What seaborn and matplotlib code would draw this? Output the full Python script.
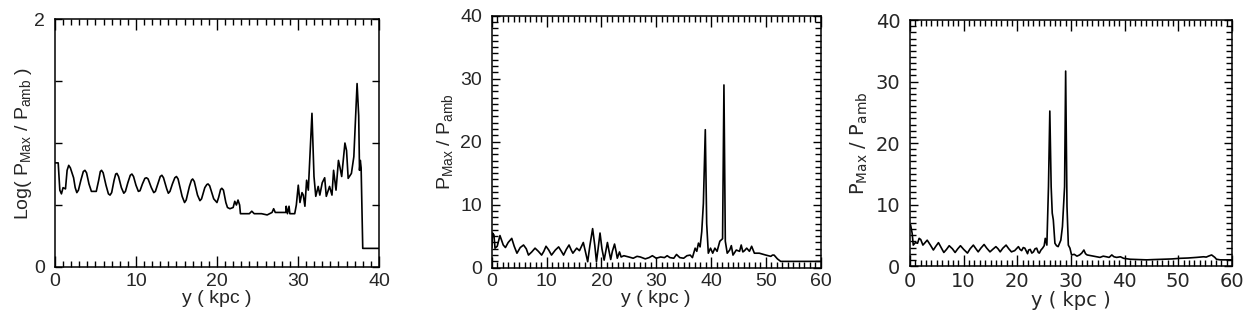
"""
Peak pressure ratio along the jet axis, three runs side by side.
"""

import pandas as pd
import seaborn as sns
import matplotlib.pyplot as plt
from matplotlib.ticker import MultipleLocator


# ---- run 1: log of peak / ambient pressure ----
y_kpc_1 = [0.0, 0.4, 0.6, 0.8, 1.0, 1.3, 1.5, 1.7, 1.9, 2.3, 2.5, 2.7, 2.9, 3.2, 3.5,
           3.7, 3.9, 4.2, 4.5, 5.1, 5.4, 5.6, 5.75, 5.95, 6.3, 6.6, 6.8, 7.0, 7.3,
           7.5, 7.65, 7.85, 8.2, 8.5, 8.7, 9.0, 9.3, 9.5, 9.7, 10.0, 10.3, 10.5,
           10.8, 11.1, 11.3, 11.5, 11.9, 12.2, 12.4, 12.7, 13.0, 13.2, 13.4, 13.8,
           14.0, 14.2, 14.5, 14.8, 15.0, 15.2, 15.7, 16.0, 16.2, 16.6, 16.85, 17.0,
           17.2, 17.6, 17.9, 18.1, 18.5, 18.75, 18.9, 19.1, 19.6, 20.0, 20.2, 20.45,
           20.6, 20.8, 21.1, 21.3, 21.6, 22.0, 22.2, 22.4, 22.6, 22.8, 22.9, 24.0,
           24.3, 24.6, 25.5, 26.2, 26.8, 27.0, 27.2, 28.0, 28.5, 28.55, 28.7, 28.9,
           29.0, 29.6, 29.8, 30.04, 30.25, 30.5, 30.66, 30.86, 31.07, 31.28, 31.48,
           31.73, 31.98, 32.2, 32.5, 32.7, 33.0, 33.3, 33.5, 33.9, 34.2, 34.4, 34.7,
           35.0, 35.2, 35.4, 35.8, 36.0, 36.2, 36.6, 36.9, 37.2, 37.3, 37.5, 37.6,
           37.7, 37.8, 38.0, 40.0]
log_ratio_1 = [0.84, 0.84, 0.62, 0.59, 0.64, 0.63, 0.78, 0.82, 0.80, 0.72, 0.64, 0.60,
               0.62, 0.70, 0.77, 0.78, 0.76, 0.67, 0.61, 0.61, 0.70, 0.77, 0.78, 0.76,
               0.66, 0.59, 0.58, 0.60, 0.70, 0.75, 0.755, 0.73, 0.64, 0.595, 0.61, 0.68,
               0.74, 0.75, 0.73, 0.66, 0.61, 0.615, 0.67, 0.715, 0.72, 0.71, 0.64, 0.60,
               0.61, 0.67, 0.73, 0.74, 0.72, 0.63, 0.595, 0.61, 0.67, 0.72, 0.73, 0.71,
               0.57, 0.52, 0.54, 0.65, 0.70, 0.71, 0.69, 0.58, 0.535, 0.55, 0.64, 0.665,
               0.67, 0.655, 0.55, 0.52, 0.56, 0.625, 0.635, 0.62, 0.52, 0.48, 0.47, 0.48,
               0.53, 0.50, 0.54, 0.50, 0.43, 0.43, 0.45, 0.43, 0.43, 0.42, 0.44, 0.47,
               0.44, 0.44, 0.44, 0.49, 0.43, 0.49, 0.43, 0.43, 0.50, 0.66, 0.52, 0.60,
               0.58, 0.49, 0.70, 0.62, 0.89, 1.24, 0.73, 0.57, 0.65, 0.58, 0.68, 0.72,
               0.57, 0.65, 0.58, 0.78, 0.62, 0.86, 0.80, 0.73, 1.00, 0.94, 0.715, 0.755,
               0.89, 1.32, 1.48, 1.22, 0.78, 0.86, 0.80, 0.15, 0.15]

# ---- run 2: peak / ambient pressure ----
y_kpc_2 = [0.0, 0.15, 0.4, 0.6, 1.0, 1.5, 2.1, 2.5, 3.0, 3.65, 4.1, 4.6, 5.2, 5.8, 6.3,
           6.7, 7.3, 7.9, 8.5, 9.1, 9.5, 9.9, 10.4, 10.9, 11.6, 12.2, 12.7, 13.1, 13.6,
           14.1, 14.5, 14.8, 15.5, 16.0, 16.7, 17.1, 17.5, 17.9, 18.4, 18.8, 19.1,
           19.4, 19.75, 20.1, 20.5, 20.8, 21.1, 21.4, 21.7, 22.0, 22.4, 22.7, 22.9,
           23.3, 23.6, 24.1, 25.0, 25.8, 26.5, 27.1, 28.0, 28.7, 29.3, 30.0, 30.8,
           31.5, 32.0, 32.5, 33.2, 33.7, 34.3, 35.0, 35.6, 36.2, 36.6, 37.1, 37.4,
           37.7, 38.0, 38.3, 38.6, 38.95, 39.2, 39.5, 39.9, 40.3, 40.7, 41.1, 41.6,
           42.1, 42.35, 42.6, 42.95, 43.4, 43.7, 44.0, 44.6, 45.2, 45.5, 45.8, 46.1,
           46.5, 47.0, 47.4, 47.9, 48.8, 50.0, 50.9, 51.2, 51.5, 52.1, 52.7, 60.0]
ratio_2 = [3.2, 5.5, 5.2, 3.1, 3.4, 5.1, 3.6, 3.2, 4.0, 4.65, 3.4, 2.3, 3.2, 3.6, 3.0,
           2.0, 2.5, 3.1, 2.6, 2.0, 2.6, 3.4, 2.8, 2.0, 2.8, 3.3, 2.6, 2.0, 2.9, 3.6,
           2.8, 2.3, 3.1, 2.7, 4.0, 2.5, 0.95, 3.5, 6.2, 3.5, 0.95, 3.0, 5.5, 3.0, 1.2,
           2.6, 4.0, 2.6, 1.3, 2.6, 3.75, 2.5, 1.5, 2.5, 1.7, 1.9, 1.7, 1.5, 1.8, 1.7,
           1.4, 1.6, 1.9, 1.5, 1.7, 1.6, 1.9, 1.6, 1.5, 2.1, 1.6, 1.5, 1.9, 2.0, 1.6,
           3.1, 2.6, 3.9, 3.3, 5.7, 10.2, 21.9, 7.0, 2.3, 3.1, 2.3, 3.1, 2.6, 4.2, 4.6,
           29.0, 4.2, 2.3, 2.8, 3.5, 2.0, 2.8, 2.6, 3.6, 2.5, 2.7, 3.1, 2.6, 3.4, 2.3,
           2.3, 2.0, 1.8, 2.0, 2.0, 1.4, 1.0, 1.0]

# ---- run 3: peak / ambient pressure ----
y_kpc_3 = [0.0, 0.1, 0.4, 0.6, 1.0, 1.4, 1.7, 2.0, 2.4, 2.8, 3.2, 3.8, 4.35, 4.8, 5.3,
           5.8, 6.3, 6.8, 7.3, 7.9, 8.4, 8.9, 9.4, 10.0, 10.7, 11.2, 11.8, 12.2, 12.7,
           13.2, 13.8, 14.3, 14.9, 15.4, 16.0, 16.4, 16.8, 17.3, 17.9, 18.4, 18.9,
           19.5, 20.2, 20.5, 20.8, 21.1, 21.4, 21.9, 22.1, 22.4, 22.7, 23.0, 23.3,
           23.6, 23.9, 24.1, 24.4, 24.7, 25.0, 25.2, 25.5, 25.8, 26.05, 26.3, 26.5,
           26.7, 27.0, 27.3, 27.6, 28.1, 28.4, 28.8, 29.0, 29.25, 29.5, 29.8, 30.1,
           30.6, 31.1, 31.6, 32.0, 32.4, 32.7, 33.0, 33.6, 34.2, 34.8, 35.4, 36.0,
           36.6, 37.1, 37.6, 38.0, 38.5, 39.2, 39.8, 41.0, 42.5, 44.1, 45.5, 47.2,
           48.8, 50.3, 51.8, 53.4, 54.7, 55.2, 55.6, 56.2, 56.8, 57.1, 57.8, 60.0]
ratio_3 = [6.7, 6.7, 5.3, 3.4, 3.8, 3.7, 4.5, 4.3, 3.4, 3.8, 4.2, 3.4, 2.6, 3.2, 3.8,
           3.0, 2.2, 2.7, 3.3, 2.8, 2.2, 2.8, 3.3, 2.7, 2.1, 2.8, 3.4, 2.9, 2.3, 2.9,
           3.5, 2.9, 2.3, 2.7, 3.15, 2.8, 2.3, 2.9, 3.4, 2.8, 2.3, 2.5, 3.15, 2.7, 2.5,
           3.0, 2.9, 2.0, 2.6, 2.7, 2.1, 2.3, 2.8, 2.9, 2.2, 2.1, 2.6, 2.9, 3.3, 4.5,
           3.4, 12.9, 25.2, 12.9, 8.6, 7.5, 3.7, 3.3, 3.15, 4.2, 6.4, 12.9, 31.7, 9.7,
           3.4, 2.9, 1.8, 1.9, 1.6, 1.8, 2.1, 2.6, 2.0, 1.8, 1.7, 1.6, 1.5, 1.4, 1.6,
           1.5, 1.4, 1.8, 1.5, 1.4, 1.5, 1.25, 1.1, 1.05, 1.0, 1.05, 1.1, 1.15, 1.25,
           1.3, 1.4, 1.5, 1.45, 1.6, 1.8, 1.4, 1.1, 1.0, 1.0]

HELV = ['Liberation Sans', 'DejaVu Sans']
DEJAVU = ['DejaVu Sans']
FS = 14


def profile(ax, x, y, xmax, ymax, font):
    df = pd.DataFrame({'y_kpc': x, 'val': y})
    sns.lineplot(data=df, x='y_kpc', y='val', ax=ax, color='black', linewidth=1.2,
                 sort=False, estimator=None)
    ax.set_xlim(0, xmax)
    ax.set_ylim(0, ymax)
    ax.xaxis.set_major_locator(MultipleLocator(10))
    ax.xaxis.set_minor_locator(MultipleLocator(1))
    ax.tick_params(which='both', direction='in', top=True, right=True,
                   width=1.0, color='black', labelsize=FS)
    ax.tick_params(axis='x', which='major', length=8, pad=4)
    ax.tick_params(axis='x', which='minor', length=4)
    ax.tick_params(axis='y', which='major', pad=7)
    ax.set_xlabel('y ( kpc )', fontsize=FS, family=font, labelpad=0)
    for s in ax.spines.values():
        s.set_linewidth(1.1)
        s.set_color('black')
    return ax


sns.set_style('ticks')
plt.rcParams['font.family'] = HELV
plt.rcParams['mathtext.default'] = 'regular'

f = plt.figure(figsize=(12.49, 3.24), dpi=100)
ax1 = f.add_axes([0.044, 0.176, 0.2594, 0.765])
ax2 = f.add_axes([0.3937, 0.1738, 0.2634, 0.7778])
ax3 = f.add_axes([0.7286, 0.179, 0.2578, 0.759])

profile(ax1, y_kpc_1, log_ratio_1, 40, 2, HELV)
ax1.set_yticks([0, 0.5, 1, 1.5, 2], labels=['0', '', '', '', '2'])
ax1.tick_params(axis='y', which='major', length=5)
for lab in ax1.get_xticklabels() + ax1.get_yticklabels():
    lab.set_family(HELV)
ax1.set_ylabel('Log( P$_{Max}$ / P$_{amb}$ )', fontsize=FS, family=HELV, labelpad=0)

for ax, x, y, font in [(ax2, y_kpc_2, ratio_2, HELV), (ax3, y_kpc_3, ratio_3, DEJAVU)]:
    profile(ax, x, y, 60, 40, font)
    ax.yaxis.set_major_locator(MultipleLocator(10))
    ax.yaxis.set_minor_locator(MultipleLocator(1))
    ax.tick_params(axis='y', which='major', length=6)
    ax.tick_params(axis='y', which='minor', length=4)
    for lab in ax.get_xticklabels() + ax.get_yticklabels():
        lab.set_family(font)
    ax.set_ylabel('P$_{Max}$ / P$_{amb}$', fontsize=FS, family=font, labelpad=4)

f.savefig('out.png', dpi=100)
